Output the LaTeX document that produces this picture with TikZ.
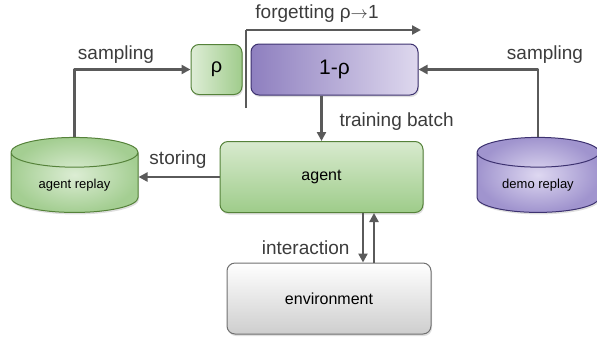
\documentclass[tikz,border=0pt]{standalone}
\usepackage{fontspec}
\setmainfont{Liberation Sans}
\usetikzlibrary{arrows.meta,shapes.geometric,shadows}
\definecolor{grline}{HTML}{55823A}
\definecolor{puline}{HTML}{3D3270}
\definecolor{gyline}{HTML}{707070}
\definecolor{arr}{HTML}{5A5A5A}
\definecolor{txt}{HTML}{3C3C3C}
\begin{document}
\begin{tikzpicture}[x=1pt,y=-1pt,line join=round,
	>={Triangle[length=9pt,width=9pt]},
	flow/.style={draw=arr,line width=2.4pt},
	lab/.style={text=txt,font=\fontsize{19}{22}\selectfont},
	shd/.style={drop shadow={opacity=0.25,shadow xshift=1pt,shadow yshift=-2pt}},
	greenbox/.style={shd,draw=grline,line width=1pt,rounded corners=8pt},
	purplebox/.style={shd,draw=puline,line width=1pt,rounded corners=8pt},
	replay/.style={shd,cylinder,shape border rotate=90,aspect=0.38,line width=1pt,
		minimum width=127pt,minimum height=75pt,font=\fontsize{13}{15}\selectfont}]
	\useasboundingbox (0,0) rectangle (597,341);
	% cac hop chinh
	\node[greenbox,left color={rgb,255:red,222;green,237;blue,214},
		right color={rgb,255:red,160;green,204;blue,140},minimum width=51pt,minimum height=50pt,
		font=\fontsize{20}{24}\selectfont] (rho) at (216.5,69.5) {ρ};
	\node[purplebox,left color={rgb,255:red,142;green,127;blue,191},right color={rgb,255:red,222;green,216;blue,238},
		minimum width=167pt,minimum height=51pt,font=\fontsize{21}{24}\selectfont] (oneminus) at (334.5,69.5) {1-ρ};
	\node[greenbox,top color={rgb,255:red,216;green,234;blue,206},bottom color={rgb,255:red,158;green,204;blue,138},
		minimum width=203pt,minimum height=71pt,font=\fontsize{16}{19}\selectfont] (agent) at (321.5,177) {agent};
	\node[shd,draw=gyline,line width=1pt,rounded corners=8pt,top color=white,bottom color={rgb,255:red,206;green,206;blue,206},
		minimum width=204pt,minimum height=71pt,font=\fontsize{16}{19}\selectfont] (env) at (329,298.5) {environment};
	% hai bo nho replay
	\node[replay,draw=grline,inner color={rgb,255:red,220;green,237;blue,212},outer color={rgb,255:red,164;green,206;blue,146}]
		(agentreplay) at (74.5,185) {agent replay};
	\node[replay,draw=puline,inner color={rgb,255:red,222;green,216;blue,241},outer color={rgb,255:red,160;green,148;blue,206},
		minimum width=122pt] (demoreplay) at (538,185) {demo replay};
	% thanh chan va mui ten forgetting
	\coordinate (bartop) at (246,30);
	\coordinate (barbot) at (246,108);
	\coordinate (fend) at (421,30);
	\draw[flow] (barbot) -- (bartop);
	\draw[flow,->] (bartop) -- (fend);
	\node[lab] (forget) at (317,14) {forgetting ρ$\rightarrow$1};
	% cac mui ten sampling, storing, training
	\draw[flow,->] (agentreplay.north) |- (rho.west);
	\draw[flow,->] (demoreplay.north) |- (oneminus.east);
	\draw[flow,->] (oneminus.south -| agent.north) -- (agent.north);
	\draw[flow,->] (agent.west) -- (agent.west -| agentreplay.east);
	\node[lab] (sampl) at (116,55) {sampling};
	\node[lab] (sampr) at (545,55) {sampling};
	\node[lab] (store) at (178,160) {storing};
	\node[lab,anchor=west] (train) at (336,122) {training batch};
	% tuong tac agent - environment
	\coordinate (dn) at (363,0);
	\coordinate (up) at (374,0);
	\draw[flow,->] (dn |- agent.south) -- (dn |- env.north);
	\draw[flow,->] (up |- env.north) -- (up |- agent.south);
	\node[lab,anchor=east] (inter) at (353,248) {interaction};
\end{tikzpicture}
\end{document}
